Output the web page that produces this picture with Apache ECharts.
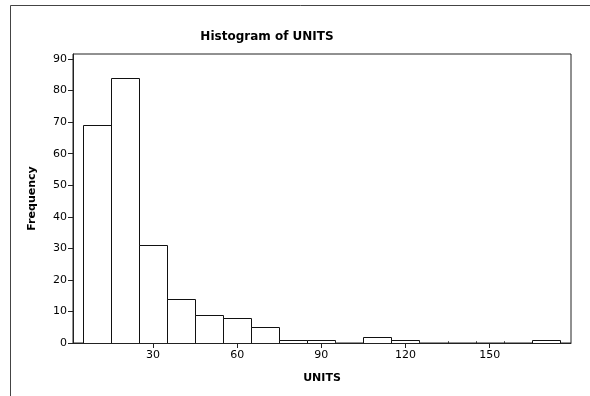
<!DOCTYPE html>
<html>
<head>
<meta charset="utf-8">
<script src="https://cdn.jsdelivr.net/npm/echarts@6/dist/echarts.min.js"></script>
<style>
  html, body { margin: 0; padding: 0; background: #fff; }
  #chart { width: 590px; height: 396px; }
</style>
</head>
<body>
<div id="chart"></div>
<script>
// Histogram bins for UNITS (bin width 10, centred on multiples of 10)
var binCenters = [10, 20, 30, 40, 50, 60, 70, 80, 90, 100, 110, 120, 130, 140, 150, 160, 170];
var counts     = [69, 84, 31, 14,  9,  8,  5,  1,  1,   0,   2,   1,   0,   0,   0,   0,   1];
var binWidth = 10;
var xTicks = [30, 60, 90, 120, 150];
var yTicks = [0, 10, 20, 30, 40, 50, 60, 70, 80, 90];

var FONT = 'DejaVu Sans';
var chart = echarts.init(document.getElementById('chart'), null, { renderer: 'canvas' });

var barData = binCenters.map(function (c, i) { return [c, counts[i]]; });

chart.setOption({
  animation: false,
  backgroundColor: '#ffffff',
  title: {
    text: 'Histogram of UNITS',
    left: 262,
    top: 26,
    textAlign: 'center',
    textStyle: { fontFamily: FONT, fontSize: 12, fontWeight: 'bold', color: '#000' }
  },
  grid: {
    left: 73, top: 54, right: 19, bottom: 53,
    show: true, borderColor: '#222', borderWidth: 1, backgroundColor: '#fff'
  },
  xAxis: {
    type: 'value',
    min: 1.5, max: 179,
    name: 'UNITS',
    nameLocation: 'middle',
    nameGap: 30,
    nameTextStyle: { fontFamily: FONT, fontSize: 11, fontWeight: 'bold', color: '#000' },
    axisLine: { show: true, onZero: false, lineStyle: { color: '#222', width: 1 } },
    axisTick: { show: true, length: 5, customValues: xTicks, lineStyle: { color: '#222' } },
    axisLabel: { customValues: xTicks, fontFamily: FONT, fontSize: 11, color: '#000', margin: 7 },
    splitLine: { show: false }
  },
  yAxis: {
    type: 'value',
    min: 0, max: 91.6,
    name: 'Frequency',
    nameLocation: 'middle',
    nameGap: 35,
    nameTextStyle: { fontFamily: FONT, fontSize: 11, fontWeight: 'bold', color: '#000' },
    axisLine: { show: true, lineStyle: { color: '#222', width: 1 } },
    axisTick: { show: true, length: 5, customValues: yTicks, lineStyle: { color: '#222' } },
    axisLabel: { customValues: yTicks, fontFamily: FONT, fontSize: 11, color: '#000', margin: 6 },
    splitLine: { show: false }
  },
  graphic: [
    { type: 'line', shape: { x1: 10.5, y1: 5.5, x2: 590, y2: 5.5 }, style: { stroke: '#444', lineWidth: 1 }, silent: true },
    { type: 'line', shape: { x1: 10.5, y1: 5.5, x2: 10.5, y2: 396 }, style: { stroke: '#444', lineWidth: 1 }, silent: true }
  ],
  series: [{
    type: 'custom',
    data: barData,
    clip: true,
    renderItem: function (params, api) {
      var c = api.value(0), n = api.value(1);
      var p0 = api.coord([c - binWidth / 2, 0]);
      var p1 = api.coord([c + binWidth / 2, n]);
      var x0 = Math.round(p0[0]) + 0.5, x1 = Math.round(p1[0]) + 0.5;
      var yb = Math.round(p0[1]) + 0.5, yt = Math.round(p1[1]) + 0.5;
      if (n === 0) {
        // empty bins only leave their edges visible on the axis
        return {
          type: 'group',
          children: [
            { type: 'line', shape: { x1: x0, y1: yb, x2: x0, y2: yb - 2 }, style: { stroke: '#333', lineWidth: 1 } },
            { type: 'line', shape: { x1: x1, y1: yb, x2: x1, y2: yb - 2 }, style: { stroke: '#333', lineWidth: 1 } }
          ]
        };
      }
      return {
        type: 'rect',
        shape: { x: x0, y: yt, width: x1 - x0, height: yb - yt },
        style: { fill: '#ffffff', stroke: '#111', lineWidth: 1 }
      };
    }
  }]
});
</script>
</body>
</html>
